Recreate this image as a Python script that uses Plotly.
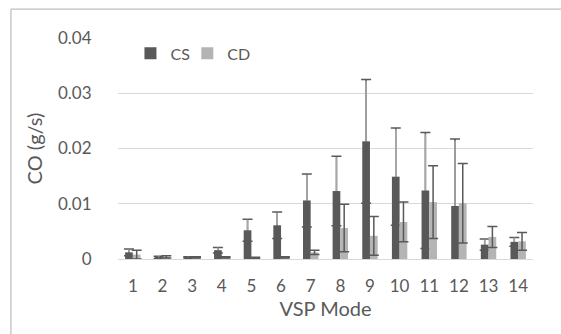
import plotly.graph_objects as go

modes = [str(i) for i in range(1, 15)]
cs = [0.0012, 0.0003, 0.0003, 0.0016, 0.0052, 0.0061, 0.0106, 0.0123, 0.0213, 0.0149, 0.0124, 0.0096, 0.0026, 0.0031]
cs_err = [0.0006, 0.0002, 0.0001, 0.0005, 0.0020, 0.0024, 0.0048, 0.0063, 0.0112, 0.0088, 0.0105, 0.0121, 0.0010, 0.0008]
cd = [0.0008, 0.0004, 0.0003, 0.0003, 0.0002, 0.0003, 0.0012, 0.0056, 0.0042, 0.0067, 0.0103, 0.0101, 0.0040, 0.0032]
cd_err = [0.0008, 0.0002, 0.0001, 0.0001, 0.0001, 0.0001, 0.0004, 0.0043, 0.0035, 0.0036, 0.0066, 0.0072, 0.0019, 0.0016]
y_ticks = [0, 0.01, 0.02, 0.03, 0.04]
y_tick_text = ["0", "0.01", "0.02", "0.03", "0.04"]

DARK = "#595959"
LIGHT = "#b4b4b4"
ERR_LIGHT = "#a6a6a6"
TXT = "#595959"
FONT = "Lato"

fig = go.Figure()
fig.add_trace(go.Bar(
    x=modes, y=cs, name="CS", offsetgroup="cs", legend="legend",
    marker=dict(color=DARK, line=dict(width=0)),
    error_y=dict(type="data", array=cs_err, color=DARK, thickness=1.5, width=5),
))
fig.add_trace(go.Bar(
    x=modes, y=cd, name="CD", offsetgroup="cd", legend="legend2",
    marker=dict(color=LIGHT, line=dict(width=0)),
    error_y=dict(type="data", array=cd_err, color=DARK, thickness=1.5, width=5),
))
# lighter upper whisker for CS (caps stay dark)
fig.add_trace(go.Bar(
    x=modes, y=cs, name="CS", offsetgroup="cs", showlegend=False,
    marker=dict(color="rgba(0,0,0,0)", line=dict(width=0)),
    error_y=dict(type="data", symmetric=False, array=[e * 0.97 for e in cs_err],
                 arrayminus=[0] * len(cs_err), color=ERR_LIGHT, thickness=1.5, width=0),
    hoverinfo="skip",
))

leg_common = dict(orientation="h", y=0.93, xanchor="left", yanchor="middle",
                  font=dict(size=16, color=TXT, family=FONT), bgcolor="rgba(0,0,0,0)",
                  itemwidth=30)

fig.update_layout(
    width=561, height=334,
    margin=dict(l=118, r=28, t=38, b=75),
    paper_bgcolor="white", plot_bgcolor="white",
    barmode="group", bargap=0.48, bargroupgap=0.0,
    font=dict(family=FONT, color=TXT, size=15),
    legend=dict(x=0.03, **leg_common),
    legend2=dict(x=0.167, **leg_common),
    showlegend=True,
    xaxis=dict(
        type="category", showgrid=False, zeroline=False, showline=False,
        ticks="outside", ticklen=12, tickcolor="rgba(0,0,0,0)",
        tickfont=dict(size=17, family=FONT, color=TXT),
        title=dict(text="VSP Mode", font=dict(size=20, family=FONT, color=TXT), standoff=4),
    ),
    yaxis=dict(
        range=[0, 0.04], tickvals=y_ticks, ticktext=y_tick_text,
        showgrid=True, gridcolor="#d9d9d9", gridwidth=1.3,
        zeroline=True, zerolinecolor="#d9d9d9", zerolinewidth=1.3, showline=False,
        ticks="outside", ticklen=22, tickcolor="rgba(0,0,0,0)",
        tickfont=dict(size=17, family=FONT, color=TXT),
        title=dict(text="CO (g/s)", font=dict(size=20, family=FONT, color=TXT), standoff=10),
    ),
    shapes=[
        dict(type="line", xref="paper", yref="paper", x0=-0.258, x1=1.2, y0=1.131, y1=1.131,
             line=dict(color="#c0c0c0", width=1.3)),
        dict(type="line", xref="paper", yref="paper", x0=-0.258, x1=-0.258, y0=1.131, y1=-0.5,
             line=dict(color="#c0c0c0", width=1.3)),
    ],
)

fig.write_html("out.html")
